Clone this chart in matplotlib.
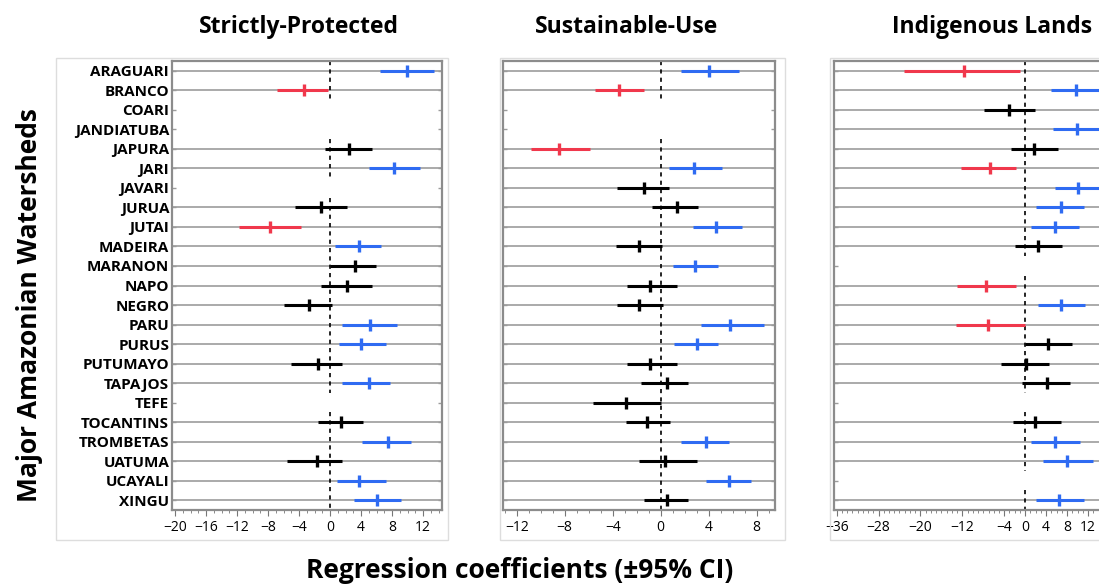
import numpy as np
import matplotlib.pyplot as plt
from matplotlib.patches import Rectangle

plt.rcParams['font.family'] = ['Open Sans', 'DejaVu Sans']

# watersheds, top to bottom
sheds = ['ARAGUARI', 'BRANCO', 'COARI', 'JANDIATUBA', 'JAPURA', 'JARI', 'JAVARI',
         'JURUA', 'JUTAI', 'MADEIRA', 'MARANON', 'NAPO', 'NEGRO', 'PARU', 'PURUS',
         'PUTUMAYO', 'TAPAJOS', 'TEFE', 'TOCANTINS', 'TROMBETAS', 'UATUMA',
         'UCAYALI', 'XINGU']
nan = np.nan

# Strictly-Protected
sp_est = [9.9, -3.3, nan, nan, 2.5, 8.3, nan, -1.2, -7.7, 3.7, 3.2, 2.2, -2.7, 5.2,
          4.0, -1.6, 5.0, nan, 1.4, 7.5, -1.7, 3.7, 6.0]
sp_lo = [6.45, -6.8, nan, nan, -0.7, 5.0, nan, -4.5, -11.7, 0.6, 0.0, -1.2, -6.0, 1.6,
         1.1, -5.0, 1.6, nan, -1.6, 4.1, -5.6, 0.9, 3.1]
sp_hi = [13.4, -0.2, nan, nan, 5.4, 11.6, nan, 2.2, -3.7, 6.6, 5.9, 5.4, 0.3, 8.6,
         7.2, 1.5, 7.8, nan, 4.3, 10.5, 1.5, 7.2, 9.2]

# Sustainable-Use
su_est = [4.0, -3.5, nan, nan, -8.5, 2.8, -1.4, 1.4, 4.6, -1.8, 2.9, -0.9, -1.8, 5.8,
          3.0, -0.9, 0.5, -2.9, -1.1, 3.8, 0.4, 5.7, 0.5]
su_lo = [1.7, -5.5, nan, nan, -10.8, 0.7, -3.6, -0.7, 2.7, -3.7, 1.0, -2.8, -3.6, 3.4,
         1.1, -2.8, -1.6, -5.6, -2.9, 1.7, -1.8, 3.8, -1.4]
su_hi = [6.5, -1.4, nan, nan, -5.9, 5.1, 0.7, 3.1, 6.8, 0.1, 4.8, 1.4, 0.2, 8.6,
         4.8, 1.4, 2.3, 0.0, 0.8, 5.7, 3.0, 7.5, 2.3]

# Indigenous Lands
il_est = [-11.6, 9.7, -3.0, 9.9, 1.7, -6.8, 10.1, 6.9, 5.7, 2.4, nan, -7.4, 6.9, -7.1,
          4.3, 0.2, 4.1, nan, 1.8, 5.7, 7.9, nan, 6.4]
il_lo = [-23.2, 4.9, -7.8, 5.4, -2.7, -12.2, 5.7, 2.1, 1.2, -2.0, nan, -13.0, 2.5, -13.2,
         0.0, -4.7, -0.6, nan, -2.3, 1.2, 3.4, nan, 2.1]
il_hi = [-0.9, 14.5, 1.9, 14.4, 6.2, -1.7, 14.5, 11.3, 10.3, 7.1, nan, -1.7, 11.5, -0.1,
         8.9, 4.6, 8.5, nan, 6.8, 10.4, 12.9, nan, 11.2]

titles = ['Strictly-Protected', 'Sustainable-Use', 'Indigenous Lands']
xlims = [(-20.4, 14.45), (-13.14, 9.53), (-36.5, 16.0)]
xticks = [np.arange(-20, 13, 4), np.arange(-12, 9, 4), [-36, -28, -20, -12, -4, 0, 4, 8, 12]]

BLUE = '#2f6bf2'
RED = '#f0384c'
GRID = '#9c9c9c'

W, H = 1099, 585
fig = plt.figure(figsize=(W / 100, H / 100), dpi=100)

# panel boxes in pixels: axes left/right, frame left/right
axes_px = [(172, 442), (503, 775), (834, 1109)]
frames_px = [(56, 448), (500, 785), (830, 1120)]
top_px, bot_px = 61, 510
title_x = [299, 627, 992]

data = [(sp_est, sp_lo, sp_hi), (su_est, su_lo, su_hi), (il_est, il_lo, il_hi)]
y = np.arange(len(sheds))

for k in range(3):
    # light outer frame
    fl, fr = frames_px[k]
    fig.add_artist(Rectangle((fl / W, 1 - 540 / H), (fr - fl) / W, (540 - 58) / H,
                             transform=fig.transFigure, fill=False,
                             edgecolor='#dddddd', lw=1))

    l, r = axes_px[k]
    ax = fig.add_axes([l / W, 1 - bot_px / H, (r - l) / W, (bot_px - top_px) / H])
    est, lo, hi = [np.array(a, dtype=float) for a in data[k]]
    has = ~np.isnan(est)

    # gridlines only where there is data
    for i in y[has]:
        ax.axhline(i, color=GRID, lw=1.2, zorder=1)

    # dashed zero line, in runs of rows with data
    i = 0
    while i < len(y):
        if has[i]:
            j = i
            while j + 1 < len(y) and has[j + 1]:
                j += 1
            ax.vlines(0, i - 0.5, j + 0.5, colors='black', linestyles=(0, (2.5, 2.5)),
                      lw=1.2, zorder=2)
            i = j + 1
        else:
            i += 1

    for i in y[has]:
        if lo[i] > 0:
            c = BLUE
        elif hi[i] < 0:
            c = RED
        else:
            c = 'black'
        ax.plot([lo[i], hi[i]], [i, i], color=c, lw=2.2, solid_capstyle='butt', zorder=3)
        ax.plot(est[i], i, marker='|', ms=9, mew=2.4, color=c, zorder=4)

    ax.set_xlim(*xlims[k])
    ax.set_ylim(len(sheds) - 0.5, -0.5)
    ax.set_xticks(xticks[k])
    ax.set_xticks(np.arange(np.ceil(xlims[k][0]), xlims[k][1], 1), minor=True)
    ax.set_yticks(y)
    if k == 0:
        ax.set_yticklabels(sheds, fontsize=11, fontweight='bold')
    else:
        ax.set_yticklabels([])
    ax.tick_params(axis='y', direction='in', length=3, color=GRID, width=1,
                   left=True, right=True, pad=2)
    ax.tick_params(axis='x', which='major', direction='out', length=4, color='#777777',
                   labelsize=10, pad=3)
    ax.tick_params(axis='x', which='minor', direction='out', length=2.5, color='#777777')
    for s in ax.spines.values():
        s.set_color('#8c8c8c')
        s.set_linewidth(1.6)

    fig.text(title_x[k] / W, 1 - 27 / H, titles[k], ha='center', va='center',
             fontsize=16.5, fontweight='bold')

fig.text(30 / W, 1 - 305 / H, 'Major Amazonian Watersheds', rotation=90,
         ha='center', va='center', fontsize=19, fontweight='bold')
fig.text(520 / W, 1 - 570 / H, 'Regression coefficients (±95% CI)',
         ha='center', va='center', fontsize=19, fontweight='bold')

fig.savefig('out.png', dpi=100)
